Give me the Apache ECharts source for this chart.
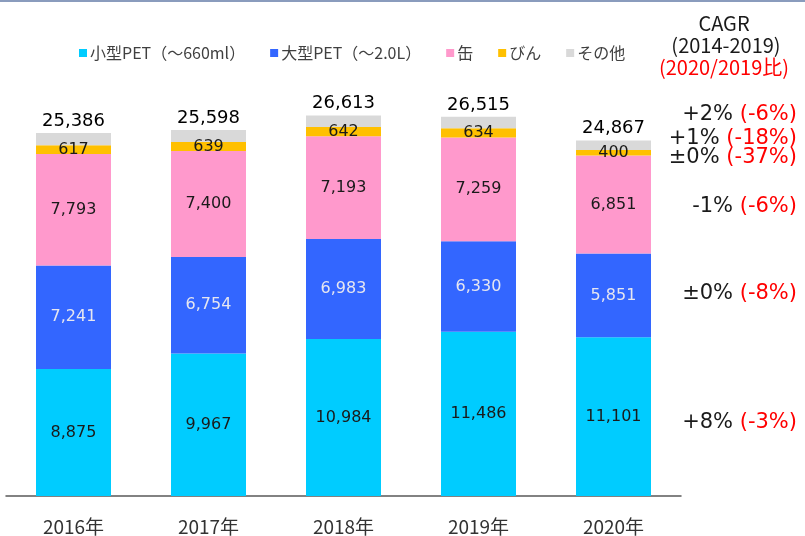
<!DOCTYPE html>
<html>
<head>
<meta charset="utf-8">
<script src="https://cdn.jsdelivr.net/npm/echarts@6/dist/echarts.min.js"></script>
<style>
html,body{margin:0;padding:0;background:#fff;}
#main{width:805px;height:536px;}
</style>
</head>
<body>
<div id="main"></div>
<script>
var categories = ['2016年', '2017年', '2018年', '2019年', '2020年'];
var seriesNames = ['小型PET（～660ml）', '大型PET（～2.0L）', '缶', 'びん', 'その他'];
var smallPET = [8875, 9967, 10984, 11486, 11101];
var largePET = [7241, 6754, 6983, 6330, 5851];
var cans = [7793, 7400, 7193, 7259, 6851];
var bottles = [617, 639, 642, 634, 400];
var others = [860, 838, 811, 806, 664];
var totals = [25386, 25598, 26613, 26515, 24867];
var cagrLabels = ['+2%', '+1%', '±0%', '-1%', '±0%', '+8%'];
var ratioLabels = ['(-6%)', '(-18%)', '(-37%)', '(-6%)', '(-8%)', '(-3%)'];
var annotationY = [115, 139, 158, 207, 294, 423];

var colors = ['#00CCFF', '#3366FF', '#FF99CC', '#FFC000', '#D9D9D9'];
var labelColors = ['#1a1a1a', '#E6E6F0', '#1a1a1a', '#1a1a1a', '#1a1a1a'];
var dataSets = [smallPET, largePET, cans, bottles, others];

function fmt(v) { return v.toLocaleString('en-US'); }

var series = dataSets.map(function (d, i) {
  var s = {
    name: seriesNames[i],
    type: 'bar',
    stack: 'total',
    data: d,
    barWidth: 75,
    itemStyle: { color: colors[i] },
    emphasis: { disabled: true },
    label: {
      show: i < 4,
      position: 'inside',
      fontFamily: 'DejaVu Sans',
      fontSize: 16,
      color: labelColors[i],
      formatter: function (p) { return fmt(p.value); }
    }
  };
  if (i === 4) {
    s.label = {
      show: true,
      position: 'top',
      distance: 3,
      fontFamily: 'DejaVu Sans',
      fontSize: 18,
      color: '#000',
      formatter: function (p) { return fmt(totals[p.dataIndex]); }
    };
  }
  return s;
});

var graphics = [
  { type: 'rect', shape: { x: 0, y: 0, width: 805, height: 2 }, style: { fill: '#8A9CBD' } },
  { type: 'text', x: 724, y: 23, style: { text: 'CAGR', fontFamily: 'Noto Sans CJK JP', fontSize: 20, fill: '#1a1a1a', align: 'center', verticalAlign: 'middle' } },
  { type: 'text', x: 726, y: 45, style: { text: '(2014-2019)', fontFamily: 'Noto Sans CJK JP', fontSize: 20, fill: '#1a1a1a', align: 'center', verticalAlign: 'middle' } },
  { type: 'text', x: 724, y: 67, style: { text: '(2020/2019比)', fontFamily: 'Noto Sans CJK JP', fontSize: 20, fill: '#FF0000', align: 'center', verticalAlign: 'middle' } }
];
cagrLabels.forEach(function (c, i) {
  graphics.push({
    type: 'text', x: 797, y: annotationY[i],
    style: {
      text: '{a|' + c + '} {b|' + ratioLabels[i] + '}',
      align: 'right', verticalAlign: 'middle',
      rich: {
        a: { fontFamily: 'DejaVu Sans', fontSize: 21, fill: '#1a1a1a', color: '#1a1a1a' },
        b: { fontFamily: 'DejaVu Sans', fontSize: 21, fill: '#FF0000', color: '#FF0000' }
      },
      fontFamily: 'DejaVu Sans', fontSize: 21
    }
  });
});

var chart = echarts.init(document.getElementById('main'));
chart.setOption({
  animation: false,
  backgroundColor: '#fff',
  grid: { left: 6, right: 124, top: 67, bottom: 40, containLabel: false },
  legend: {
    data: seriesNames,
    left: 74,
    top: 40,
    icon: 'rect',
    itemWidth: 8,
    itemHeight: 8,
    itemGap: 25,
    textStyle: { fontFamily: 'Noto Sans CJK JP', fontSize: 16, color: '#404040', padding: [0, 0, 0, -2] }
  },
  xAxis: {
    type: 'category',
    data: categories,
    axisLine: { lineStyle: { color: '#595959', width: 1.5 } },
    axisTick: { show: false },
    axisLabel: { fontFamily: 'Noto Sans CJK JP', fontSize: 19, color: '#333', margin: 21 }
  },
  yAxis: {
    type: 'value',
    min: 0,
    max: 30000,
    show: false,
    splitLine: { show: false }
  },
  series: series,
  graphic: graphics
});
</script>
</body>
</html>
